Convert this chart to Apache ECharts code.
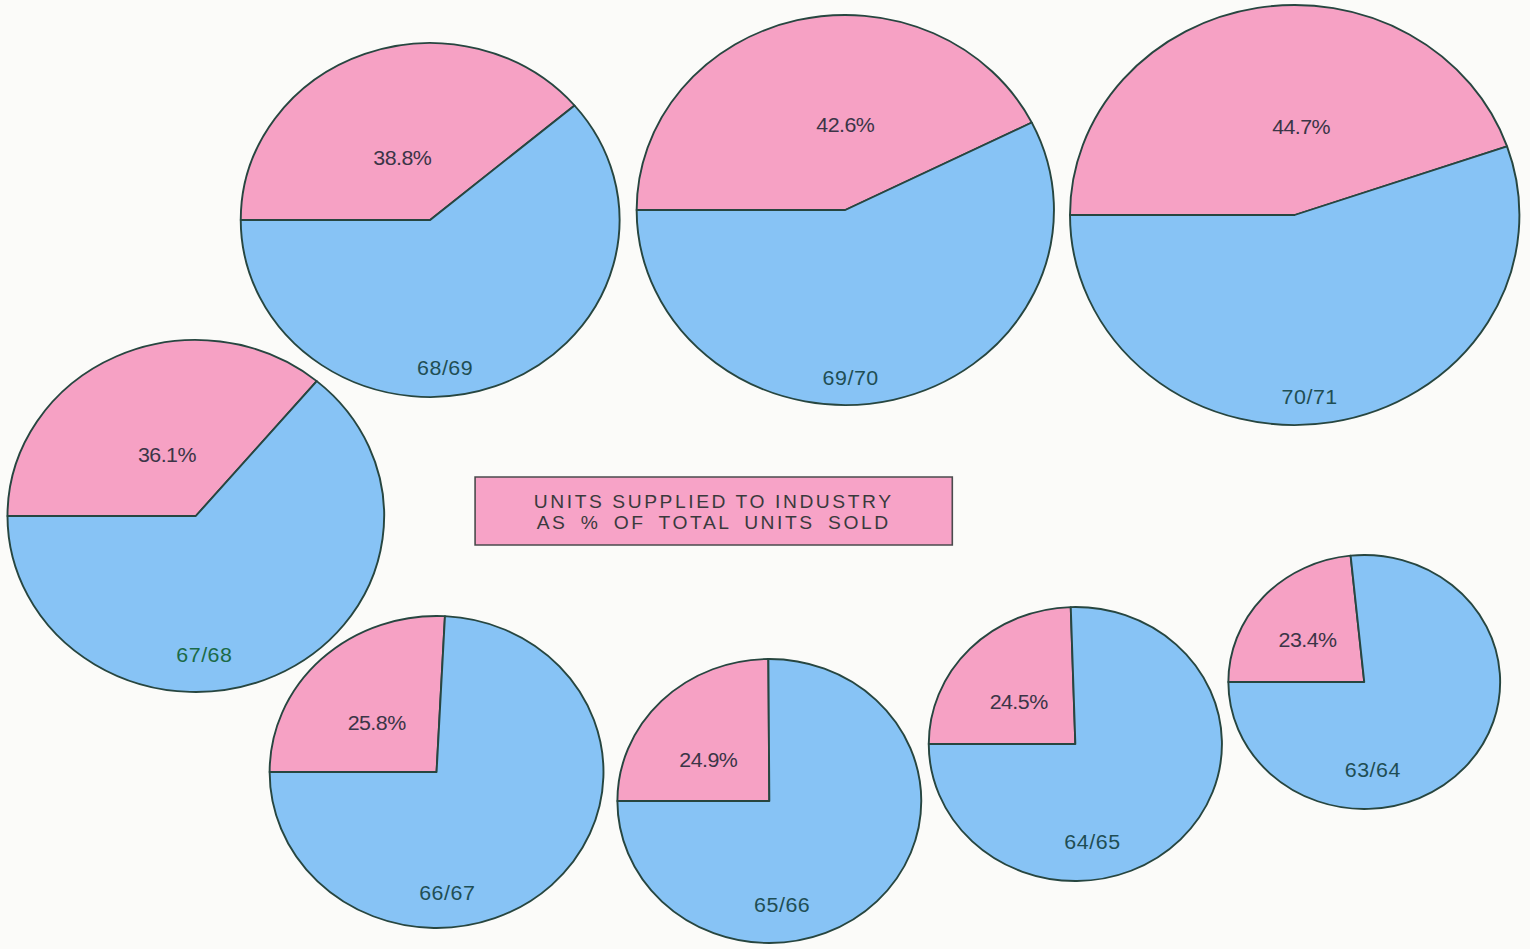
<!DOCTYPE html>
<html>
<head>
<meta charset="utf-8">
<script src="https://cdn.jsdelivr.net/npm/echarts@6/dist/echarts.min.js"></script>
<style>
  html, body { margin: 0; padding: 0; background: #fbfbf9; overflow: hidden; }
  #wrap { width: 1530px; height: 949px; overflow: hidden; }
  #chart { width: 1430px; height: 949px; transform: scaleX(1.07); transform-origin: 0 0; }
  #chart text[fill="#3b3547"] { letter-spacing: -0.5px; }
  #chart text[fill="#1f4e54"], #chart text[fill="#1b6a47"] { letter-spacing: 0.5px; }
  #chart text[fill="#3a3a3c"] { letter-spacing: 2.4px; }
  #chart text[fill="#3a3a3d"] { letter-spacing: 2.4px; word-spacing: 5px; }
</style>
</head>
<body>
<div id="wrap"><div id="chart"></div></div>
<script>
// ---- data ----
const years = ['68/69', '69/70', '70/71', '67/68', '66/67', '65/66', '64/65', '63/64'];
const industryPct = [38.8, 42.6, 44.7, 36.1, 25.8, 24.9, 24.5, 23.4];
const otherPct = [61.2, 57.4, 55.3, 63.9, 74.2, 75.1, 75.5, 76.6];
const legendLines = ['UNITS SUPPLIED TO INDUSTRY', 'AS % OF TOTAL UNITS SOLD'];

// ---- layout (pixel positions in the unstretched frame) ----
const pieCenters = [[402, 220], [790, 210], [1210, 215], [183, 516], [408, 772], [719, 801], [1005, 744], [1275, 682]];
const pieRadii = [177, 195, 210, 176, 156, 142, 137, 127];
const pctOffsets = [[-26, -62], [0, -85], [6, -88], [-27, -61], [-56, -49], [-57, -41], [-53, -42], [-53, -42]];
const yearOffsets = [[14, 148], [5, 168], [14, 182], [8, 139], [10, 121], [12, 104], [16, 98], [8, 88]];

// ---- styles ----
const PINK = '#f6a1c4';
const BLUE = '#87c3f5';
const EDGE = '#274640';
const yearColors = ['#1f4e54', '#1f4e54', '#1f4e54', '#1b6a47', '#1f4e54', '#1f4e54', '#1f4e54', '#1f4e54'];
const FONT = '"Liberation Sans", Arial, Helvetica, sans-serif';

const chart = echarts.init(document.getElementById('chart'), null, { renderer: 'svg' });

const series = years.map((y, i) => ({
  type: 'pie',
  name: y,
  z: 2,
  center: pieCenters[i],
  radius: pieRadii[i],
  startAngle: 180,
  clockwise: true,
  silent: true,
  animation: false,
  avoidLabelOverlap: false,
  label: { show: false },
  labelLine: { show: false },
  emphasis: { disabled: true },
  itemStyle: { borderColor: EDGE, borderWidth: 1.8 },
  data: [
    { name: 'Supplied to industry', value: industryPct[i], itemStyle: { color: PINK } },
    { name: 'Other', value: otherPct[i], itemStyle: { color: BLUE } }
  ]
}));

const graphics = [];
years.forEach((y, i) => {
  graphics.push({
    type: 'text', silent: true, z: 100,
    x: pieCenters[i][0] + pctOffsets[i][0],
    y: pieCenters[i][1] + pctOffsets[i][1],
    style: {
      text: industryPct[i].toFixed(1) + '%',
      fill: '#3b3547',
      font: '20px ' + FONT,
      textAlign: 'center', textVerticalAlign: 'middle'
    }
  });
  graphics.push({
    type: 'text', silent: true, z: 100,
    x: pieCenters[i][0] + yearOffsets[i][0],
    y: pieCenters[i][1] + yearOffsets[i][1],
    style: {
      text: y,
      fill: yearColors[i],
      font: '20px ' + FONT,
      textAlign: 'center', textVerticalAlign: 'middle'
    }
  });
});
graphics.push({
  type: 'rect', silent: true, z: 100,
  shape: { x: 444, y: 477, width: 446, height: 68 },
  style: { fill: '#f7a3c7', stroke: '#4b4b4d', lineWidth: 1.5 }
});
graphics.push({
  type: 'text', silent: true, z: 101, x: 667, y: 502,
  style: { text: legendLines[0], fill: '#3a3a3c', font: '18px ' + FONT, textAlign: 'center', textVerticalAlign: 'middle' }
});
graphics.push({
  type: 'text', silent: true, z: 101, x: 667, y: 523,
  style: { text: legendLines[1], fill: '#3a3a3d', font: '18px ' + FONT, textAlign: 'center', textVerticalAlign: 'middle' }
});

chart.setOption({
  backgroundColor: 'transparent',
  animation: false,
  series: series,
  graphic: { elements: graphics }
});
</script>
</body>
</html>
